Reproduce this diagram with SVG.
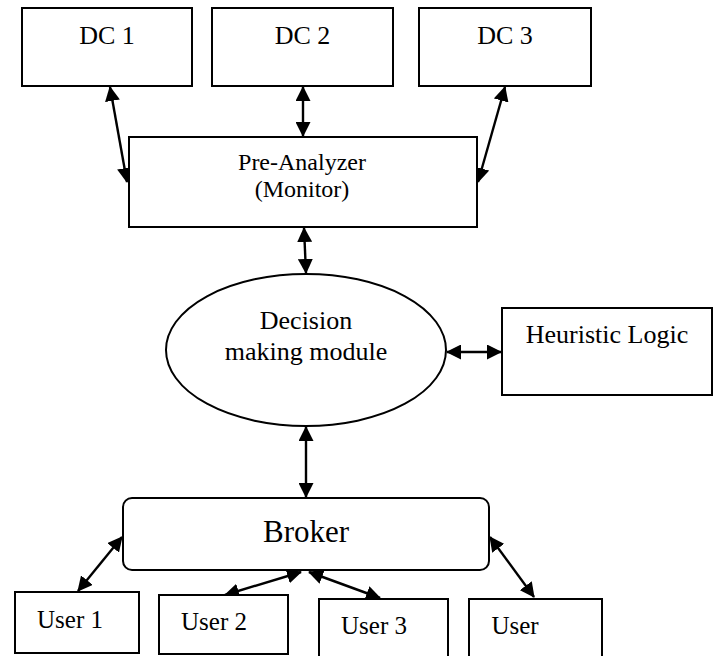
<svg xmlns="http://www.w3.org/2000/svg" width="720" height="656" viewBox="0 0 720 656">
  <style>
    .box { fill: #fff; stroke: #000; stroke-width: 2; }
    .lbl { font-family: "Liberation Serif", "Times New Roman", serif; fill: #000; text-anchor: middle; }
    .link { stroke: #000; stroke-width: 2.4; fill: none; marker-start: url(#head); marker-end: url(#head); }
  </style>
  <defs>
    <marker id="head" markerUnits="userSpaceOnUse" markerWidth="15" markerHeight="15" viewBox="0 0 15 15" refX="14" refY="7.5" orient="auto-start-reverse">
      <path d="M0,0 L15,7.5 L0,15 z" fill="#000"/>
    </marker>
  </defs>
  <rect width="720" height="656" fill="#fff"/>

  <g id="connectors">
    <line class="link" x1="110" y1="87" x2="127" y2="182"/>
    <line class="link" x1="303" y1="87" x2="303" y2="136"/>
    <line class="link" x1="505" y1="87" x2="478" y2="182"/>
    <line class="link" x1="304" y1="228" x2="306" y2="273"/>
    <line class="link" x1="447" y1="352" x2="501" y2="352"/>
    <line class="link" x1="306" y1="427" x2="306" y2="497"/>
    <line class="link" x1="122" y1="537" x2="78" y2="591"/>
    <line class="link" x1="301" y1="572" x2="225" y2="595"/>
    <line class="link" x1="309" y1="572" x2="380" y2="598"/>
    <line class="link" x1="490" y1="537" x2="534" y2="597"/>
  </g>

  <g id="dc1">
    <rect class="box" x="22" y="8" width="170" height="78"/>
    <text class="lbl" x="107" y="44" font-size="26">DC 1</text>
  </g>
  <g id="dc2">
    <rect class="box" x="212" y="8" width="181" height="78"/>
    <text class="lbl" x="302.5" y="44" font-size="26">DC 2</text>
  </g>
  <g id="dc3">
    <rect class="box" x="419" y="8" width="172" height="78"/>
    <text class="lbl" x="505" y="44" font-size="26">DC 3</text>
  </g>

  <g id="pre-analyzer">
    <rect class="box" x="129" y="137" width="348" height="90"/>
    <text class="lbl" x="302" y="170" font-size="24">Pre-Analyzer</text>
    <text class="lbl" x="302" y="197" font-size="24">(Monitor)</text>
  </g>

  <g id="decision">
    <ellipse class="box" cx="306" cy="350" rx="140" ry="76"/>
    <text class="lbl" x="306" y="329" font-size="26">Decision</text>
    <text class="lbl" x="306" y="360" font-size="26">making module</text>
  </g>

  <g id="heuristic">
    <rect class="box" x="502" y="308" width="210" height="87"/>
    <text class="lbl" x="607" y="343" font-size="26">Heuristic Logic</text>
  </g>

  <g id="broker">
    <rect class="box" x="123" y="498" width="366" height="72" rx="9" ry="9"/>
    <text class="lbl" x="306" y="542" font-size="31">Broker</text>
  </g>

  <g id="user1">
    <rect class="box" x="15" y="592" width="124" height="61"/>
    <text class="lbl" x="70" y="628" font-size="25">User 1</text>
  </g>
  <g id="user2">
    <rect class="box" x="159" y="595" width="129" height="59"/>
    <text class="lbl" x="214" y="630" font-size="25">User 2</text>
  </g>
  <g id="user3">
    <rect class="box" x="319" y="599" width="129" height="70"/>
    <text class="lbl" x="374" y="634" font-size="25">User 3</text>
  </g>
  <g id="user4">
    <rect class="box" x="469" y="599" width="133" height="70"/>
    <text class="lbl" x="515" y="634" font-size="25">User</text>
  </g>
</svg>
